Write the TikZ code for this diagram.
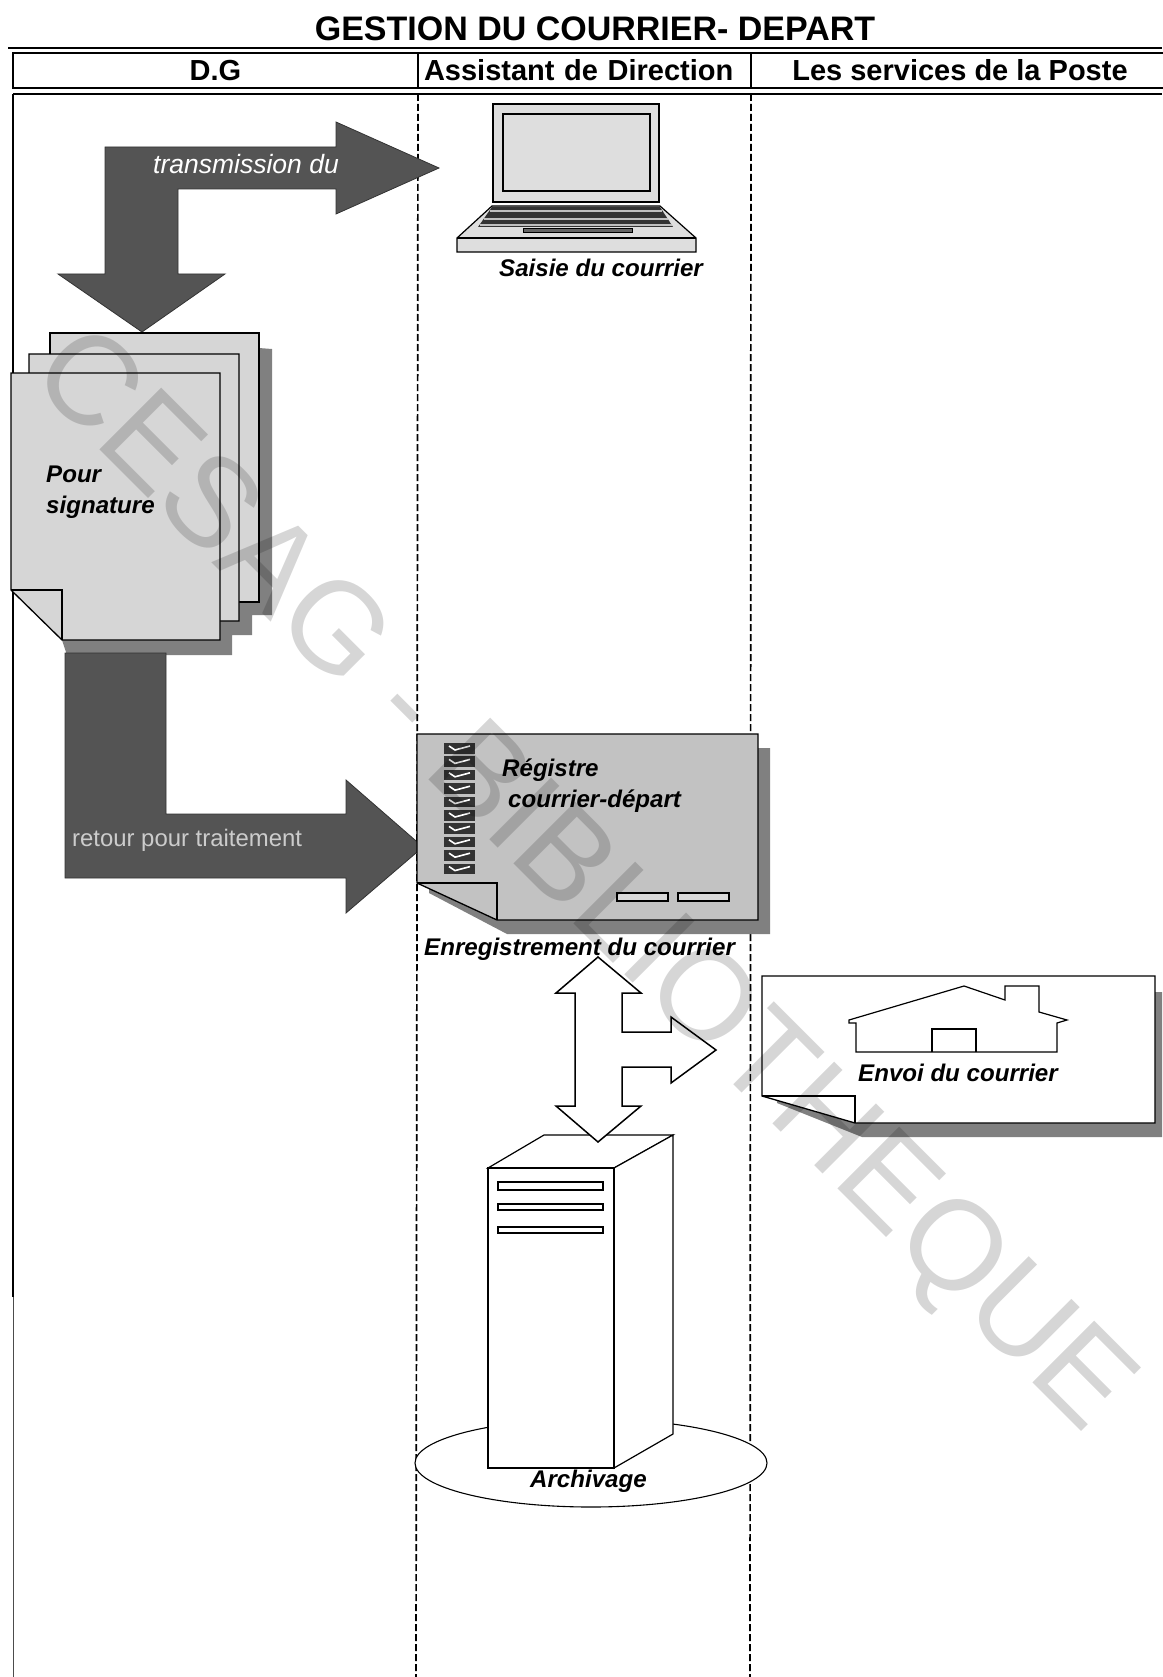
\documentclass[tikz,border=0pt]{standalone}
\usepackage{fontspec}
\setmainfont{Liberation Sans}
\usetikzlibrary{positioning}
\begin{document}
\begin{tikzpicture}[
  x=1pt, y=-1pt,
  hdr/.style={draw, line width=1.5pt, minimum height=35pt, inner sep=0pt, font=\fontsize{29}{31}\selectfont\bfseries},
  lbl/.style={inner sep=0pt, anchor=west, align=left, font=\fontsize{24.1}{31}\selectfont\bfseries\itshape},
  page/.style={draw, line width=1.3pt, fill=black!16},
  flap/.style={draw, line width=1.3pt},
  shade/.style={fill=black!50},
  bigarr/.style={draw=black!80, line width=0.8pt, fill=black!67},
  pic/.style={draw, line width=1.2pt, fill=white},
  lane/.style={line width=1.7pt, dash pattern=on 7pt off 3pt}
]
\useasboundingbox (0,0) rectangle (1162,1677);

\node[inner sep=0pt, font=\fontsize{34}{36}\selectfont\bfseries] (title) at (595,29) {GESTION DU COURRIER- DEPART};
\draw[line width=1.5pt] (8,48) -- (1162,48);
\node[hdr, minimum width=405pt] (dg) at (215.5,70.5) {D.G};
\node[hdr, minimum width=333pt, inner xsep=6pt, text width=321pt, align=left] (ad) at (584.5,70.5) {Assistant de Direction};
\node[hdr, minimum width=418pt] (poste) at (960,70.5) {Les services de la Poste};
\draw[line width=1.5pt] (13,94) -- (1162,94);
\draw[line width=1.5pt] (13,94) -- (13,1297);
\draw[line width=0.7pt, black!70] (13,1297) -- (13,1677);
\draw[lane] (418,94) -- (416,1677);
\draw[lane] (751,94) -- (750,1677);

\draw[bigarr] (105,147) -- (336,147) -- (336,122) -- (439,168) -- (336,214) -- (336,189) -- (178,189)
  -- (178,274) -- (225,274) -- (142,332) -- (58,274) -- (105,274) -- cycle;
\node[inner sep=0pt, text=white, font=\fontsize{26.5}{28}\selectfont\itshape] (transmission) at (246,164) {transmission du};

\draw[pic, fill=black!13] (493,104) rectangle (659,202);
\draw[pic, fill=black!13] (503,114) rectangle (650,191);
\draw[pic, fill=black!13] (492,206) -- (660,206) -- (696,238) -- (696,252) -- (457,252) -- (457,238) -- cycle;
\draw[line width=1.2pt] (457,238) -- (696,238);
\fill[black!80] (492,207) -- (660,207) -- (673,227) -- (478,227) -- cycle;
\foreach \ykey/\xa/\xb in {211/490/662, 219/484/668, 225/480/672}
  \draw[line width=1.6pt, black!25] (\xa,\ykey) -- (\xb,\ykey);
\draw[line width=1pt, fill=black!60] (523,229) rectangle (632,233);
\node[lbl] (saisie) at (499,268) {Saisie du courrier};

\fill[shade] (63,333) -- (272,349) -- (272,615) -- (252,615) -- (252,635) -- (232,635) -- (232,655) -- (67,655) -- (62,640) -- cycle;
\draw[page] (50,333) rectangle (259,602);
\draw[page] (29,354) -- (239,354) -- (239,621) -- (79,621) -- (29,571) -- cycle;
\draw[page] (11,373) -- (220,373) -- (220,640) -- (62,640) -- (11,590) -- cycle;
\draw[flap] (11,590) -- (62,590) -- (62,640);
\node[lbl, align=left] (signature) at (46,492) {Pour\\signature};

\draw[bigarr] (65,653) -- (166,653) -- (166,814) -- (346,814) -- (346,780) -- (423,847) -- (346,913) -- (346,878) -- (65,878) -- cycle;
\node[inner sep=0pt, anchor=west, text=black!20, font=\fontsize{23.9}{28}\selectfont] (retour) at (72,840) {retour pour traitement};

\fill[shade] (429,893) -- (432,748) -- (770,748) -- (770,934) -- (507,934) -- cycle;
\draw[page, fill=black!24] (417,734) -- (758,734) -- (758,920) -- (497,920) -- (417,883) -- cycle;
\draw[flap] (417,883) -- (497,883) -- (497,920);
\foreach \ybox in {743,756.4,769.8,783.2,796.6,810,823.4,836.8,850.2,863.6}{
  \fill[black!80] (444,\ybox) rectangle (475,\ybox+10.5);
  \draw[white, line width=1.6pt] (449,\ybox+3) -- (455,\ybox+7) -- (470,\ybox+3);
}
\node[lbl] (registre) at (502,786) {Régistre\\\hspace*{6pt}courrier-départ};
\draw[line width=1.2pt, fill=black!15] (617,893) rectangle (668,901);
\draw[line width=1.2pt, fill=black!15] (678,893) rectangle (729,901);
\node[lbl] (enreg) at (424,949) {Enregistrement du courrier};

\fill[shade] (777,1103) -- (775,992) -- (1162,992) -- (1162,1137) -- (862,1137) -- cycle;
\draw[page, fill=white] (762,976) -- (1155,976) -- (1155,1123) -- (855,1123) -- (762,1096) -- cycle;
\draw[flap] (762,1096) -- (855,1096) -- (855,1123);
\draw[line width=1.2pt] (856,1052) -- (856,1023) -- (849,1023) -- (849,1020) -- (964,986) -- (1005,1000) -- (1005,986)
  -- (1039,986) -- (1039,1012) -- (1067,1020) -- (1057,1023) -- (1057,1052) -- cycle;
\draw[line width=1.2pt] (932,1052) -- (932,1029) -- (976,1029) -- (976,1052);
\node[lbl] (envoi) at (858,1073) {Envoi du courrier};

\draw[line width=1.1pt, fill=white] (591,1463) ellipse (176pt and 44pt);
\draw[pic] (488,1168) -- (544,1135) -- (673,1135) -- (614,1168) -- cycle;
\draw[pic] (614,1168) -- (673,1135) -- (673,1434) -- (614,1468) -- cycle;
\draw[pic] (488,1168) rectangle (614,1468);
\foreach \yslot/\yend in {1182/1190, 1204/1210, 1227/1233}
  \draw[pic] (498,\yslot) rectangle (603,\yend);
\node[lbl] (archivage) at (530,1481) {Archivage};

\draw[pic, line width=1.5pt] (598,957) -- (641,993) -- (622,993) -- (622,1032) -- (671,1032) -- (671,1017) -- (716,1050)
  -- (671,1083) -- (671,1067) -- (622,1067) -- (622,1106) -- (641,1106) -- (598,1142) -- (556,1106) -- (575,1106)
  -- (575,993) -- (556,993) -- cycle;

\node[inner sep=0pt, rotate=-45, text=black, text opacity=0.16, font=\fontsize{127}{130}\selectfont] (watermark) at (579,884) {CESAG - BIBLIOTHEQUE};
\end{tikzpicture}
\end{document}
